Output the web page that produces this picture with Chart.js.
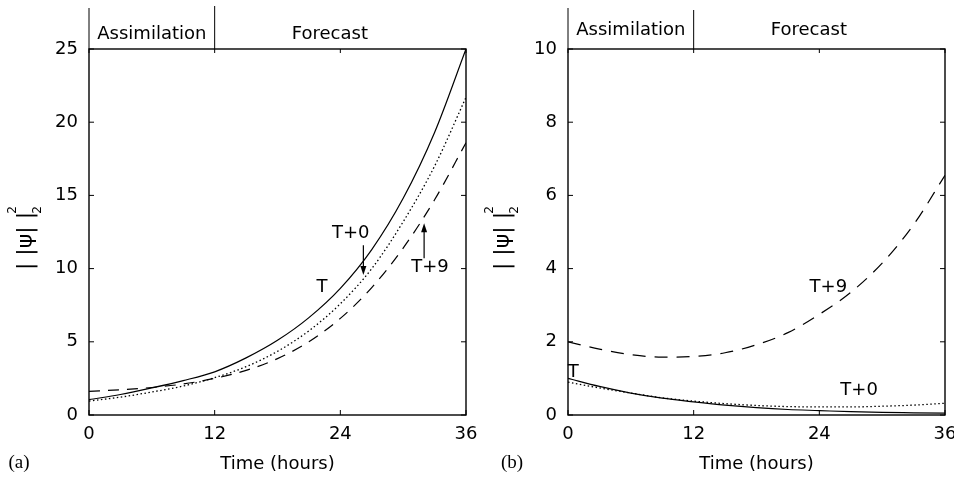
<!DOCTYPE html>
<html><head><meta charset="utf-8">
<script src="https://cdn.jsdelivr.net/npm/chart.js@4/dist/chart.umd.min.js"></script>
<style>
html,body{margin:0;padding:0;background:#fff;width:954px;height:479px;overflow:hidden}
.wrap{position:absolute;top:0;width:477px;height:479px}
</style></head><body>
<div class="wrap" style="left:0"><canvas id="ca" width="477" height="479"></canvas></div>
<div class="wrap" style="left:477px"><canvas id="cb" width="477" height="479"></canvas></div>
<script>
// ---- data ----
const hours = [0, 3, 6, 9, 12, 15, 18, 21, 24, 27, 30, 33, 36];
// panel (a)
const aTruth = [1.05, 1.4, 1.85, 2.35, 2.95, 3.9, 5.1, 6.65, 8.65, 11.3, 14.8, 19.3, 25];
const aT0    = [0.95, 1.22, 1.57, 1.98, 2.55, 3.3, 4.35, 5.75, 7.6, 10.0, 13.2, 17.0, 21.7];
const aT9    = [1.62, 1.72, 1.88, 2.12, 2.5, 3.05, 3.85, 5.0, 6.6, 8.7, 11.4, 14.7, 18.6];
// panel (b)
const bTruth = [1.0, 0.78, 0.6, 0.46, 0.36, 0.27, 0.2, 0.15, 0.12, 0.09, 0.07, 0.06, 0.05];
const bT0    = [0.9, 0.74, 0.6, 0.47, 0.38, 0.31, 0.26, 0.23, 0.22, 0.22, 0.24, 0.27, 0.32];
const bT9    = [2.0, 1.8, 1.65, 1.58, 1.6, 1.7, 1.92, 2.25, 2.75, 3.35, 4.15, 5.2, 6.55];

const xTicks = [0, 12, 24, 36];
const aYTicks = [0, 5, 10, 15, 20, 25];
const bYTicks = [0, 2, 4, 6, 8, 10];
const phaseBounds = [0, 12];
const phaseNames = ['Assimilation', 'Forecast'];
const phaseLabelAt = [6, 23];
const xTitle = 'Time (hours)';
const panelNames = ['(a)', '(b)'];
const seriesNames = ['T', 'T+0', 'T+9'];
// annotation anchors in data units
const aLabels = [{text:'T', t:22.25, v:8.74}, {text:'T+0', t:25.0, v:12.43}, {text:'T+9', t:32.56, v:10.1}];
const aArrows = [{t:26.2, from:11.6, to:9.56}, {t:32.0, from:10.7, to:13.1}];
const bLabels = [{text:'T', t:0.5, v:1.17}, {text:'T+9', t:24.86, v:3.49}, {text:'T+0', t:27.8, v:0.67}];
const bArrows = [];

const FONT = "'DejaVu Sans', sans-serif";

function pts(ys){ return hours.map((h,i)=>({x:h, y:ys[i]})); }

function deco(cfg){
  return {
    id:'deco',
    afterDraw(chart){
      const ctx = chart.ctx, a = chart.chartArea, x = chart.scales.x, y = chart.scales.y;
      ctx.save();
      ctx.strokeStyle = '#000'; ctx.fillStyle = '#000';
      // frame
      ctx.lineWidth = 1.4;
      ctx.strokeRect(a.left, a.top, a.right - a.left, a.bottom - a.top);
      // inward ticks
      ctx.lineWidth = 1;
      ctx.beginPath();
      xTicks.forEach(v => { const p = x.getPixelForValue(v);
        ctx.moveTo(p, a.bottom); ctx.lineTo(p, a.bottom - 5);
        ctx.moveTo(p, a.top); ctx.lineTo(p, a.top + 4); });
      cfg.yTicks.forEach(v => { const p = y.getPixelForValue(v);
        ctx.moveTo(a.left, p); ctx.lineTo(a.left + 5, p);
        ctx.moveTo(a.right, p); ctx.lineTo(a.right - 5, p); });
      ctx.stroke();
      // header
      ctx.lineWidth = 1;
      ctx.beginPath();
      phaseBounds.forEach((v,i) => { const p = x.getPixelForValue(v);
        ctx.moveTo(p, a.top); ctx.lineTo(p, a.top - (i === 0 ? 41 : cfg.midTop)); });
      ctx.stroke();
      ctx.font = '18px ' + FONT;
      ctx.textAlign = 'center'; ctx.textBaseline = 'middle';
      phaseNames.forEach((n,i) => ctx.fillText(n, x.getPixelForValue(phaseLabelAt[i]), cfg.headY));
      // annotations
      cfg.labels.forEach(l => ctx.fillText(l.text, x.getPixelForValue(l.t), y.getPixelForValue(l.v)));
      cfg.arrows.forEach(ar => {
        const px = x.getPixelForValue(ar.t), y0 = y.getPixelForValue(ar.from), y1 = y.getPixelForValue(ar.to);
        const dir = y1 > y0 ? 1 : -1;
        ctx.lineWidth = 1.2;
        ctx.beginPath(); ctx.moveTo(px, y0); ctx.lineTo(px, y1 - dir * 6); ctx.stroke();
        ctx.beginPath(); ctx.moveTo(px, y1); ctx.lineTo(px - 3, y1 - dir * 9); ctx.lineTo(px + 3, y1 - dir * 9); ctx.closePath(); ctx.fill();
      });
      // y-axis title ||psi||_2^2
      ctx.save();
      ctx.translate(cfg.yTitleX, cfg.yTitleY);
      ctx.rotate(-Math.PI / 2);
      ctx.font = '22px ' + FONT;
      ctx.fillText('| |\u03C8| |', 0, 0);
      ctx.font = '12px ' + FONT;
      ctx.fillText('2', 31, -13);
      ctx.fillText('2', 31, 12);
      ctx.restore();
      // panel name
      ctx.font = "19px 'Liberation Serif', serif";
      ctx.fillText(cfg.panel, cfg.panelX, 463);
      ctx.restore();
    }
  };
}

function makeChart(id, truth, t0, t9, ymax, yTicks, padLeft, padRight, dashT9, extra){
  const ds = [
    {label: seriesNames[0], data: pts(truth), borderColor:'#000', borderWidth:1.2, borderDash:[]},
    {label: seriesNames[1], data: pts(t0), borderColor:'#000', borderWidth:1.3, borderDash:[1.5, 2.5]},
    {label: seriesNames[2], data: pts(t9), borderColor:'#000', borderWidth:1.2, borderDash:dashT9}
  ];
  return new Chart(document.getElementById(id), {
    type:'line',
    data:{datasets: ds},
    options:{
      responsive:false, animation:false,
      layout:{padding:{top:49, right:padRight, left:0, bottom:0}},
      elements:{point:{radius:0}, line:{cubicInterpolationMode:'monotone', fill:false}},
      plugins:{legend:{display:false}, tooltip:{enabled:false}},
      scales:{
        x:{type:'linear', min:0, max:36,
           afterBuildTicks(s){ s.ticks = xTicks.map(v=>({value:v})); },
           grid:{display:false, drawTicks:false}, border:{display:false},
           ticks:{color:'#000', font:{family:FONT, size:18}, padding:9, maxRotation:0},
           title:{display:true, text:xTitle, color:'#000', font:{family:FONT, size:18}, padding:{top:0, bottom:4}},
           afterFit(s){ s.height = 64; s.paddingLeft = 0; s.paddingRight = 0; }},
        y:{type:'linear', min:0, max:ymax,
           afterBuildTicks(s){ s.ticks = yTicks.map(v=>({value:v})); },
           grid:{display:false, drawTicks:false}, border:{display:false},
           ticks:{color:'#000', font:{family:FONT, size:18}, padding:11},
           afterFit(s){ s.width = padLeft; s.paddingTop = 0; s.paddingBottom = 0; }}
      }
    },
    plugins:[deco(Object.assign({yTicks}, extra))]
  });
}

makeChart('ca', aTruth, aT0, aT9, 25, aYTicks, 89, 11, [11, 8],
  {labels:aLabels, arrows:aArrows, headY:34, midTop:43, yTitleX:26, yTitleY:241, panel:panelNames[0], panelX:19});
makeChart('cb', bTruth, bT0, bT9, 10, bYTicks, 91, 9, [13, 9],
  {labels:bLabels, arrows:bArrows, headY:30, midTop:39, yTitleX:26, yTitleY:241, panel:panelNames[1], panelX:35});
</script>
</body></html>
